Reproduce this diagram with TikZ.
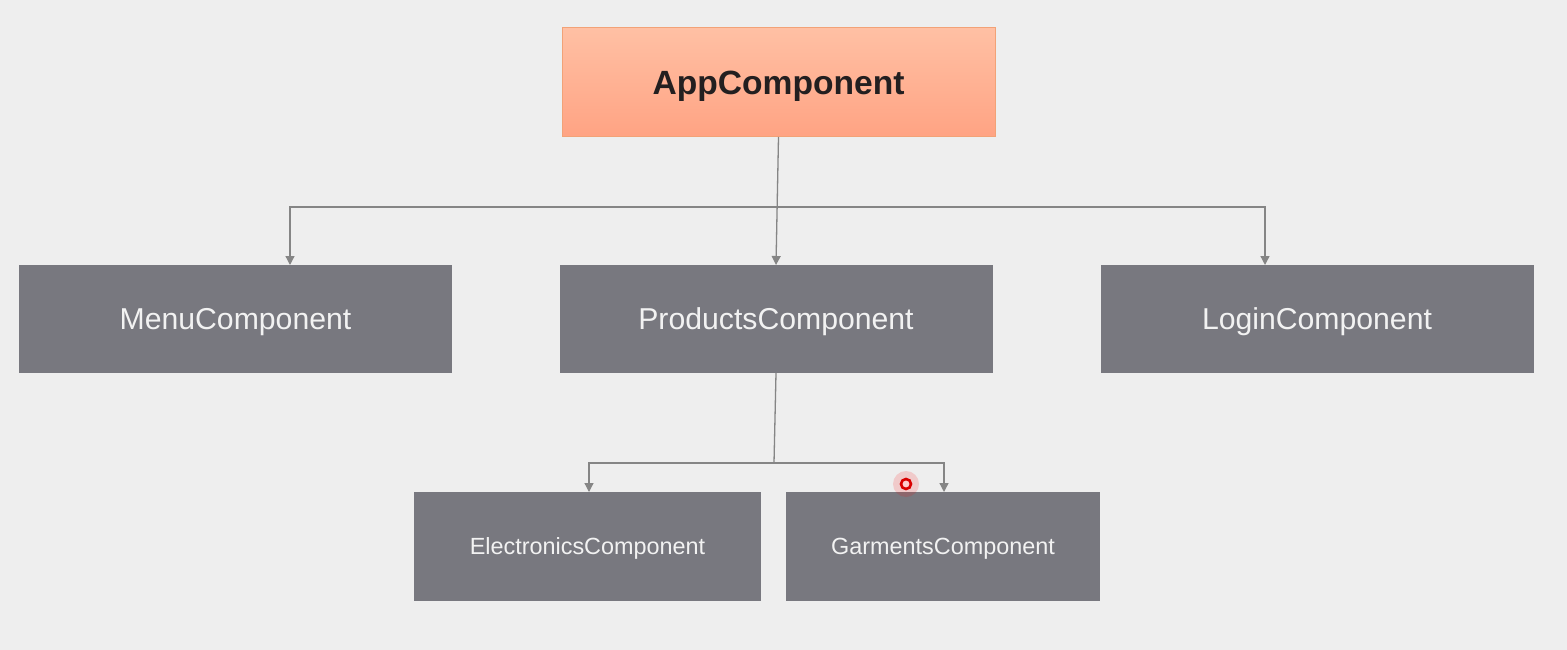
\documentclass[tikz,border=0pt]{standalone}
\usepackage{fontspec}
\setmainfont{Liberation Sans}
\usepackage{tikz}
\usetikzlibrary{arrows.meta}
\definecolor{bgGray}{HTML}{EEEEEE}
\definecolor{boxGray}{HTML}{78787F}
\definecolor{lineGray}{HTML}{858585}
\definecolor{appTop}{HTML}{FFC0A4}
\definecolor{appBottom}{HTML}{FFA383}
\definecolor{appBorder}{HTML}{F2A277}
\definecolor{appText}{HTML}{231F20}
\definecolor{textWhite}{HTML}{F2F2F2}

\begin{document}
\begin{tikzpicture}[x=1pt,y=-1pt]
  \tikzset{ParentStyle/.style = {
    shape         = rectangle,
    draw          = appBorder,
    top color     = appTop,
    bottom color  = appBottom,
    line width    = 1pt,
    text          = appText,
    font          = \fontsize{33.6}{40}\selectfont\bfseries,
    text depth    = 0pt,
    inner sep     = 0pt,
    outer sep     = 0pt,
    minimum width = 433pt,
    minimum height= 109pt
    }
  }
  \tikzset{ChildStyle/.style = {
    shape         = rectangle,
    fill          = boxGray,
    text          = textWhite,
    font          = \fontsize{30.2}{36}\selectfont,
    text depth    = 0pt,
    inner sep     = 0pt,
    outer sep     = 0pt,
    minimum width = 433pt,
    minimum height= 108pt
    }
  }
  \tikzset{LeafStyle/.style = {
    ChildStyle,
    font          = \fontsize{23.4}{28}\selectfont,
    minimum height= 109pt
    }
  }
  \tikzset{EdgeStyle/.style = {
    draw          = lineGray,
    line width    = 1.3pt,
    -{Triangle[length=9pt,width=9pt]}
    }
  }
  \tikzset{BusStyle/.style = {
    draw          = lineGray,
    line width    = 1.3pt
    }
  }

  \useasboundingbox[fill=bgGray] (0,0) rectangle (1567,650);

	\node[ParentStyle](App) at (778.5, 82.5) {AppComponent};
	%
	\node[ChildStyle](Menu) at (235.5, 319) {MenuComponent};
	\node[ChildStyle](Products) at (776, 319) {ProductsComponent};
	\node[ChildStyle](Login) at (1317, 319) {LoginComponent};
	%
	\node[LeafStyle, minimum width=347pt](Electronics) at (587.5, 546.5) {ElectronicsComponent};
	\node[LeafStyle, minimum width=314pt](Garments) at (943, 546.5) {GarmentsComponent};

	\coordinate (TopBus) at (777.5, 207);
	\coordinate (MenuIn) at (290, 265);
	\coordinate (LoginIn) at (1265, 265);
	\coordinate (LowBus) at (774, 463);
	\coordinate (ElectronicsIn) at (589, 492);
	\coordinate (GarmentsIn) at (944, 492);

	%
	\draw[EdgeStyle](App.south) to (Products.north);
	\draw[EdgeStyle](TopBus) -| (MenuIn);
	\draw[EdgeStyle](TopBus) -| (LoginIn);
	\draw[BusStyle](Products.south) to (LowBus);
	\draw[EdgeStyle](LowBus) -| (ElectronicsIn);
	\draw[EdgeStyle](LowBus) -| (GarmentsIn);

	% pointer mark
	\node[circle, fill=red, fill opacity=0.15, minimum size=26pt, inner sep=0pt](Halo) at (906, 484) {};
	\node[circle, draw=red!85!black, line width=2.6pt, fill=white!80!red, minimum size=10pt, inner sep=0pt](Pointer) at (Halo) {};

  \end{tikzpicture}
\end{document}
